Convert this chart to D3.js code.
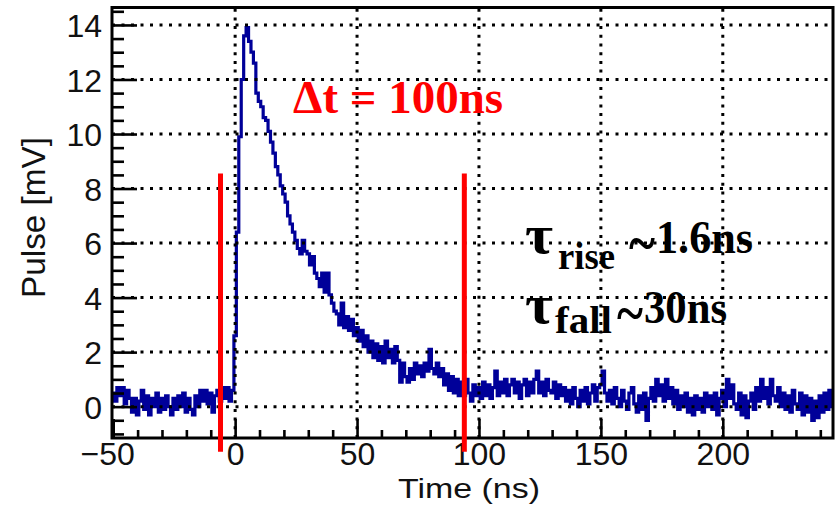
<!DOCTYPE html>
<html><head><meta charset="utf-8">
<script src="https://cdn.jsdelivr.net/npm/d3@7"></script>
<style>body{margin:0;background:#fff}svg{display:block}</style>
</head><body><svg id="c" width="838" height="506"></svg>
<script>
// ---- data (1 ns bins, first bin centred at -50 ns) ----
const binStart = -50.5, binWidth = 1;
const preTrigger = [0.5,0.2,0.7,0.4,0.7,0.1,0.6,0.3,-0.2,0.3,
  -0.3,0.2,0.6,-0.1,0.4,-0.3,0.3,0.0,0.5,-0.2,
  0.3,-0.1,0.4,0.0,-0.3,0.3,-0.1,0.4,0.0,0.5,
  -0.2,0.3,-0.1,-0.3,0.4,0.0,0.6,0.2,0.6,0.1,
  0.5,-0.2,0.4,0.6,0.2,0.7,0.3,0.7,0.2,0.6];            // -50 .. -1
const risePeak = [2.6,6.4,9.9,12.0,13.6,13.9,13.4,13.0,12.6,11.5]; // 0 .. 9
const decay = [11.2,11.0,10.6,10.5,10.1,9.7,9.3,8.8,8.5,8.1,
  7.8,7.5,7.0,6.7,6.4,6.1,5.8,5.6,6.1,5.7,
  5.6,5.2,5.5,4.9,4.7,4.4,4.9,4.2,4.9,4.1,
  3.8,3.5,3.4,3.0,3.8,2.9,3.3,2.8,3.2,2.6,
  2.9,2.4,2.8,2.2,2.6,2.0,2.4,1.8,2.3,1.7,
  2.2,1.6,2.4,1.8,2.1,1.6,2.2,1.7,0.9,1.6,
  1.1,0.9,1.4,1.0,1.6,1.2,1.5,1.1,1.6,1.3,
  2.1,1.4,1.2,1.6,1.1,1.4,0.8,1.2,0.6,1.1,
  0.5,1.0,0.4,0.9,0.4,1.0,0.5,0.2,0.8,0.4];             // 10 .. 99
const tail = [0.7,0.3,0.9,0.4,0.8,0.3,0.7,1.3,0.4,0.9,
  0.5,1.0,0.4,0.8,1.0,0.5,0.9,0.3,0.8,1.0,
  0.4,0.9,0.5,1.0,1.3,0.5,0.9,0.4,1.0,0.6,
  0.5,0.9,0.3,0.8,0.4,0.7,0.2,0.6,0.1,0.7,
  0.3,0.0,0.6,0.2,0.7,0.1,0.5,0.8,0.2,0.7,
  0.8,1.3,0.5,0.2,0.6,0.1,0.7,0.3,0.0,0.6,
  0.2,-0.1,0.5,0.7,0.1,-0.2,0.4,-0.1,0.5,-0.5,
  0.3,0.7,0.2,1.0,0.4,0.8,0.2,1.0,0.3,0.7,
  0.1,0.6,-0.1,0.4,0.0,0.5,-0.2,0.3,-0.3,0.4,
  -0.1,0.3,-0.2,0.5,0.0,0.4,-0.1,0.5,-0.3,0.3,
  0.6,0.0,1.0,0.3,0.8,0.1,-0.1,0.5,-0.3,0.4,
  -0.4,0.2,0.5,-0.1,0.7,0.2,1.0,0.3,0.7,0.1,
  1.0,0.4,0.2,0.7,0.0,0.5,-0.1,0.4,-0.2,0.6,
  0.1,-0.1,0.5,-0.3,0.4,-0.2,0.3,-0.5,0.2,-0.4,
  0.4,-0.2,0.5,-0.1,0.6,0.0];                          // 100 .. 245
const xMajorTicks = [-50,0,50,100,150,200];
const yMajorTicks = [0,2,4,6,8,10,12,14];
const markerTimes = [-6, 94];
const markerSpan = [8.55, -1.65];
const xTitle = "Time (ns)", yTitle = "Pulse [mV]";

// ---- layout ----
const svg = d3.select("#c");
const L = 112, R = 833, T = 7.5, B = 438;
const x = d3.scaleLinear().domain([-50.5, 245.2]).range([L, R]);
const y = d3.scaleLinear().domain([-1.15, 14.64]).range([B, T]);

const values = preTrigger.concat(risePeak, decay, tail);
const pts = values.map((v, i) => [binStart + i * binWidth, v]);
pts.push([binStart + values.length * binWidth, values[values.length - 1]]);

svg.append("defs").append("clipPath").attr("id", "clip")
  .append("rect").attr("x", L).attr("y", T).attr("width", R - L).attr("height", B - T);

// histogram step line
svg.append("path").datum(pts)
  .attr("clip-path", "url(#clip)")
  .attr("fill", "none").attr("stroke", "#000099").attr("stroke-width", 3.2)
  .attr("d", d3.line().x(d => x(d[0])).y(d => y(d[1])).curve(d3.curveStepAfter));

// grid
const grid = svg.append("g").attr("stroke", "#000").attr("stroke-width", 3);
grid.selectAll("line.h").data(yMajorTicks).join("line")
  .attr("x1", L).attr("x2", R).attr("y1", d => y(d)).attr("y2", d => y(d))
  .attr("stroke-dasharray", "3,6.5");
grid.selectAll("line.v").data(xMajorTicks.filter(d => d > -50)).join("line")
  .attr("y1", B).attr("y2", T).attr("x1", d => x(d)).attr("x2", d => x(d))
  .attr("stroke-dasharray", "3,5.7");

// axes
const fontSans = "'Liberation Sans', Arial, Helvetica, sans-serif";
const xMinor = d3.range(-50, 250, 10).filter(d => xMajorTicks.indexOf(d) < 0);
const yMinor = d3.range(-1, 14.6, 0.5).filter(d => yMajorTicks.indexOf(d) < 0);

const gx = svg.append("g").attr("transform", `translate(0,${B})`);
gx.call(d3.axisBottom(x).tickValues(xMajorTicks).tickSize(-19).tickPadding(4).tickSizeOuter(0));
gx.append("g").call(d3.axisBottom(x).tickValues(xMinor).tickSize(-8).tickFormat("").tickSizeOuter(0));
const gy = svg.append("g").attr("transform", `translate(${L},0)`);
gy.call(d3.axisLeft(y).tickValues(yMajorTicks).tickSize(-25).tickPadding(10).tickSizeOuter(0));
gy.append("g").call(d3.axisLeft(y).tickValues(yMinor).tickSize(-12).tickFormat("").tickSizeOuter(0));
svg.selectAll(".domain").remove();
svg.selectAll(".tick line").attr("stroke", "#000").attr("stroke-width", 2.6);
svg.selectAll(".tick text").attr("font-family", fontSans).attr("font-size", 32).attr("fill", "#111");
gy.selectAll(".tick text").attr("dy", "0.36em");
gx.selectAll(".tick text").filter(d => d < 0).attr("dx", -6);

// frame
svg.append("rect").attr("x", L).attr("y", T).attr("width", R - L).attr("height", B - T)
  .attr("fill", "none").attr("stroke", "#000").attr("stroke-width", 3);

// axis titles
svg.append("text").attr("x", 398).attr("y", 497.5).attr("font-family", fontSans)
  .attr("font-size", 28).attr("textLength", 142).attr("lengthAdjust", "spacingAndGlyphs")
  .attr("fill", "#111").text(xTitle);
svg.append("text").attr("transform", "translate(45,298) rotate(-90)")
  .attr("font-family", fontSans).attr("font-size", 34).attr("textLength", 161)
  .attr("lengthAdjust", "spacingAndGlyphs").attr("fill", "#111").text(yTitle);

// red marker lines
svg.selectAll("line.marker").data(markerTimes).join("line")
  .attr("x1", d => x(d)).attr("x2", d => x(d))
  .attr("y1", y(markerSpan[0])).attr("y2", y(markerSpan[1]))
  .attr("stroke", "#ff0000").attr("stroke-width", 5);

// annotations
const serif = "'Liberation Serif', 'Times New Roman', serif";
function txt(s, px, py, size, len, color) {
  svg.append("text").attr("x", px).attr("y", py).attr("font-family", serif)
    .attr("font-weight", "bold").attr("font-size", size)
    .attr("textLength", len).attr("lengthAdjust", "spacingAndGlyphs")
    .attr("fill", color || "#000").text(s);
}
txt("\u0394t = 100ns", 293, 113, 46, 210, "#ff0000");
txt("\u03c4", 525, 253, 54, 28);
txt("rise", 558, 269, 38, 57);
txt("~", 629, 262, 56, 26);
txt("1.6ns", 656, 253, 47, 97);
txt("\u03c4", 525, 323, 54, 28);
txt("fall", 555, 333, 38, 57);
txt("~", 617, 332, 56, 26);
txt("30ns", 644, 323, 47, 83);
</script></body></html>
